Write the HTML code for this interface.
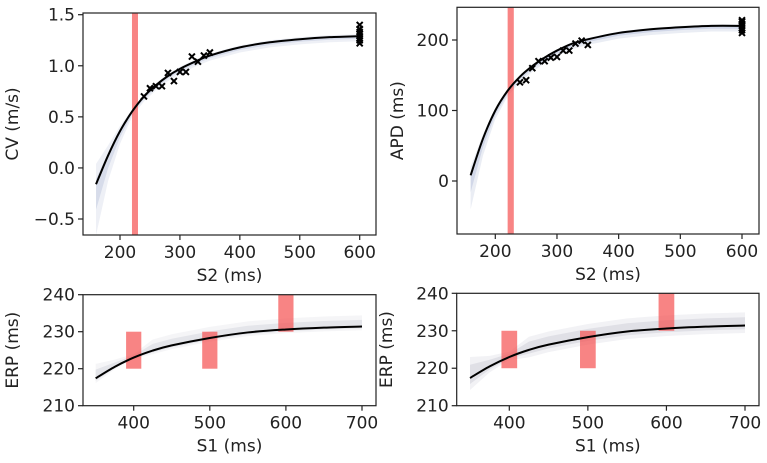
<!DOCTYPE html>
<html><head><meta charset="utf-8"><style>
body{margin:0;background:#fff}
svg{display:block;font-family:"DejaVu Sans","Liberation Sans",sans-serif}
</style></head><body>
<svg id="c" width="767" height="463"></svg>
<script>
// ---- data ----
const cvCurveX=[160,180,200,220,240,260,280,300,325,350,400,450,500,550,600];
const cvCurveY=[-0.16,0.12,0.36,0.55,0.70,0.81,0.90,0.97,1.04,1.10,1.18,1.23,1.26,1.28,1.29];
const cvPtsX=[240,250,260,270,280,290,300,310,320,330,340,350,600,600,600,600,600,600,600,600];
const cvPtsY=[0.70,0.78,0.80,0.80,0.93,0.85,0.94,0.94,1.09,1.04,1.10,1.13,1.22,1.25,1.27,1.29,1.31,1.33,1.36,1.40];
const apdCurveX=[160,180,200,220,240,260,280,300,325,350,400,450,500,550,600];
const apdCurveY=[8,60,100,128,148,163,175,185,195,201,210,215,218,220,220];
const apdPtsX=[240,250,260,270,280,290,300,310,320,330,340,350,600,600,600,600,600,600,600];
const apdPtsY=[140,143,160,170,170,175,176,185,185,195,199,193,210,214,217,220,223,226,228];
const erpCurveX=[350,375,400,425,450,500,550,600,650,700];
const erpCurveY=[217.4,220.5,223,224.9,226.3,228.3,229.8,230.6,231.1,231.4];
const erpBarX=[400,500,600];
const erpBarLo=[220,220,230];
const erpBarHi=[230,230,240];
const s2Band=[220,230];

const NS="http://www.w3.org/2000/svg";
const svg=document.getElementById('c');
function el(tag,attrs,parent){const e=document.createElementNS(NS,tag);for(const k in attrs)e.setAttribute(k,attrs[k]);(parent||svg).appendChild(e);return e;}
function lin(d0,d1,r0,r1){return v=>r0+(v-d0)*(r1-r0)/(d1-d0);}
const FS=17;
function panel(p){
  const g=el('g',{});
  
  
  const X=lin(p.xt[0],p.xt[1],p.xp[0],p.xp[1]);
  const Y=lin(p.yt[0],p.yt[1],p.yp[0],p.yp[1]);
  const cid='clip'+p.name;
  const cp=el('clipPath',{id:cid},g);el('rect',{x:p.box[0],y:p.box[1],width:p.box[2]-p.box[0],height:p.box[3]-p.box[1]},cp);
  const pg=el('g',{'clip-path':'url(#'+cid+')'},g);
  const wt=i=>i===0?p.w0:(i===1?p.w0*0.5:(i===2?p.w0*0.25:1));
  for(let k=0;k<p.band.length;k++){
    const [du,dl,op]=p.band[k];
    let d='';
    p.cx.forEach((x,i)=>{d+=(i?'L':'M')+X(x)+','+Y(p.cy[i]+du*wt(i));});
    for(let i=p.cx.length-1;i>=0;i--){d+='L'+X(p.cx[i])+','+Y(p.cy[i]-dl*wt(i));}
    const b=el('path',{d:d+'Z',fill:p.bandColor,'fill-opacity':op},pg);
    
    
  }
  if(p.vband){const r=el('rect',{x:X(p.vband[0]),y:p.box[1],width:X(p.vband[1])-X(p.vband[0]),height:p.box[3]-p.box[1],fill:'rgb(245,80,80)','fill-opacity':0.7},pg);
    
    }
  if(p.bars){p.bars.x.forEach((x,i)=>{const r=el('rect',{x:X(x-10),y:Y(p.bars.hi[i]),width:X(x+10)-X(x-10),height:Y(p.bars.lo[i])-Y(p.bars.hi[i]),fill:'rgb(245,80,80)','fill-opacity':0.7},pg);
    
    });}
  const sm=[];
  for(let i=0;i<p.cx.length;i++)sm.push([X(p.cx[i]),Y(p.cy[i])]);
  let d='M'+sm[0];
  for(let i=0;i<sm.length-1;i++){
    const p0=sm[Math.max(0,i-1)],p1=sm[i],p2=sm[i+1],p3=sm[Math.min(sm.length-1,i+2)];
    d+='C'+(p1[0]+(p2[0]-p0[0])/6)+','+(p1[1]+(p2[1]-p0[1])/6)+' '+(p2[0]-(p3[0]-p1[0])/6)+','+(p2[1]-(p3[1]-p1[1])/6)+' '+p2[0]+','+p2[1];
  }
  const c=el('path',{d:d,fill:'none',stroke:'#000','stroke-width':2},pg);
  
  
  if(p.px){p.px.forEach((x,i)=>{const cx=X(x),cy=Y(p.py[i]),s=3;
    const m=el('path',{d:`M${cx-s},${cy-s}L${cx+s},${cy+s}M${cx-s},${cy+s}L${cx+s},${cy-s}`,stroke:'#000','stroke-width':2},pg);
    
    });}
  const f=el('rect',{x:p.box[0],y:p.box[1],width:p.box[2]-p.box[0],height:p.box[3]-p.box[1],fill:'none',stroke:'#222','stroke-width':1.2},g);
  
  
  p.xticks.forEach(t=>{const x=X(t);el('line',{x1:x,x2:x,y1:p.box[3],y2:p.box[3]+5,stroke:'#222','stroke-width':1.2},g);
    const tx=el('text',{x:x,y:p.box[3]+23,'text-anchor':'middle','font-size':FS,fill:'#222'},g);tx.textContent=t;
    
    });
  p.yticks.forEach(t=>{const y=Y(t);el('line',{x1:p.box[0]-5,x2:p.box[0],y1:y,y2:y,stroke:'#222','stroke-width':1.2},g);
    const tx=el('text',{x:p.box[0]-8,y:y+6,'text-anchor':'end','font-size':FS,fill:'#222'},g);tx.textContent=(p.yfmt?p.yfmt(t):t);
    
    });
  const xl=el('text',{x:(p.box[0]+p.box[2])/2,y:p.box[3]+46,'text-anchor':'middle','font-size':FS,fill:'#222'},g);xl.textContent=p.xlabel;
  
  
  const yx=p.ylx,yy=(p.box[1]+p.box[3])/2;
  const yl=el('text',{x:yx,y:yy,'text-anchor':'middle','font-size':FS,fill:'#222',transform:`rotate(-90 ${yx} ${yy})`},g);yl.textContent=p.ylabel;
  
  
}
const f1=v=>(v<0?'\u2212':'')+Math.abs(v).toFixed(1);
panel({name:'cv-panel',box:[83,13,376,235],xt:[200,600],xp:[120,359.7],yt:[1.5,-0.5],yp:[14.7,219],
  cx:cvCurveX,cy:cvCurveY,px:cvPtsX,py:cvPtsY,vband:s2Band,bandColor:'#7083b8',w0:10,band:[[0.02,0.05,0.12],[0.005,0.025,0.18]],
  xticks:[200,300,400,500,600],yticks:[-0.5,0,0.5,1,1.5],yfmt:f1,xlabel:'S2 (ms)',ylabel:'CV (m/s)',ylx:18});
panel({name:'apd-panel',box:[457,7.3,759,234],xt:[200,600],xp:[495.3,742],yt:[200,0],yp:[40,181],
  cx:apdCurveX,cy:apdCurveY,px:apdPtsX,py:apdPtsY,vband:s2Band,bandColor:'#7083b8',w0:6,band:[[2,8,0.15],[0.5,4,0.2]],
  xticks:[200,300,400,500,600],yticks:[0,100,200],xlabel:'S2 (ms)',ylabel:'APD (ms)',ylx:403});
panel({name:'erp-panel-left',box:[83,294.7,376,405.7],xt:[400,700],xp:[133.7,362],yt:[240,210],yp:[294.7,405.7],
  cx:erpCurveX,cy:erpCurveY,bars:{x:erpBarX,lo:erpBarLo,hi:erpBarHi},bandColor:'#80849c',w0:1.3,band:[[3,1,0.08],[1.8,0.5,0.14]],
  xticks:[400,500,600,700],yticks:[210,220,230,240],xlabel:'S1 (ms)',ylabel:'ERP (ms)',ylx:18});
panel({name:'erp-panel-right',box:[456.7,293.3,759,405.7],xt:[400,700],xp:[509.3,745],yt:[240,210],yp:[293.3,405.7],
  cx:erpCurveX,cy:erpCurveY,bars:{x:erpBarX,lo:erpBarLo,hi:erpBarHi},bandColor:'#80849c',w0:1.6,band:[[3.5,2,0.1],[2.2,1,0.16]],
  xticks:[400,500,600,700],yticks:[210,220,230,240],xlabel:'S1 (ms)',ylabel:'ERP (ms)',ylx:392});
</script>
</body></html>
